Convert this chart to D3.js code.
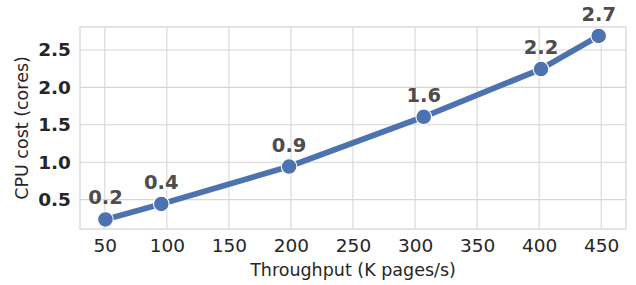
<!DOCTYPE html>
<html>
<head>
<meta charset="utf-8">
<script src="https://cdn.jsdelivr.net/npm/d3@7"></script>
<style>
  body { margin: 0; background: #fff; }
  text { font-family: "DejaVu Sans", sans-serif; }
</style>
</head>
<body>
<svg id="chart" width="636" height="285"></svg>
<script>
// measured throughput and cpu cost
var throughput = [50.5, 95.5, 198.5, 307, 401.5, 448];
var cpuCost = [0.236, 0.443, 0.942, 1.607, 2.245, 2.687];
var costLabels = ['0.2', '0.4', '0.9', '1.6', '2.2', '2.7'];
var xTicks = [50, 100, 150, 200, 250, 300, 350, 400, 450];
var yTicks = [0.5, 1.0, 1.5, 2.0, 2.5];

var margin = { top: 27, right: 10, bottom: 56, left: 80 };
var width = 636, height = 285;
var svg = d3.select('#chart');

var x = d3.scaleLinear().domain([30, 470]).range([margin.left, width - margin.right]);
var y = d3.scaleLinear().domain([0.108, 2.807]).range([height - margin.bottom, margin.top]);

var grid = svg.append('g').attr('stroke', '#d6d6d6').attr('stroke-width', 1.1);
grid.selectAll('.gx').data(xTicks).enter().append('line')
  .attr('x1', x).attr('x2', x)
  .attr('y1', margin.top).attr('y2', height - margin.bottom);
grid.selectAll('.gy').data(yTicks).enter().append('line')
  .attr('y1', y).attr('y2', y)
  .attr('x1', margin.left).attr('x2', width - margin.right);

// spines
svg.append('rect')
  .attr('x', margin.left).attr('y', margin.top)
  .attr('width', width - margin.right - margin.left)
  .attr('height', height - margin.bottom - margin.top)
  .attr('fill', 'none').attr('stroke', '#d6d6d6').attr('stroke-width', 1.3);

var xAxis = svg.append('g')
  .attr('transform', 'translate(0,' + (height - margin.bottom) + ')')
  .call(d3.axisBottom(x).tickValues(xTicks).tickSize(0).tickPadding(10));
xAxis.select('.domain').remove();
xAxis.selectAll('text')
  .attr('fill', '#262626').style('font-size', '18.5px')
  .style('font-family', '"DejaVu Sans", sans-serif');

var yAxis = svg.append('g')
  .attr('transform', 'translate(' + margin.left + ',0)')
  .call(d3.axisLeft(y).tickValues(yTicks).tickFormat(d3.format('.1f')).tickSize(0).tickPadding(9));
yAxis.select('.domain').remove();
yAxis.selectAll('text')
  .attr('fill', '#262626').style('font-size', '18.5px').style('font-weight', 'bold')
  .style('font-family', '"DejaVu Sans", sans-serif');

svg.append('text')
  .attr('x', (margin.left + width - margin.right) / 2).attr('y', 275.5)
  .attr('text-anchor', 'middle').attr('fill', '#262626')
  .style('font-size', '17.5px')
  .text('Throughput (K pages/s)');

svg.append('text')
  .attr('transform', 'translate(28,' + (margin.top + height - margin.bottom) / 2 + ') rotate(-90)')
  .attr('text-anchor', 'middle').attr('fill', '#262626')
  .style('font-size', '17.5px')
  .text('CPU cost (cores)');

var pts = throughput.map(function(t, i) { return { t: t, c: cpuCost[i], label: costLabels[i] }; });

svg.append('path')
  .datum(pts)
  .attr('fill', 'none').attr('stroke', '#4c72b0').attr('stroke-width', 5.8)
  .attr('stroke-linejoin', 'round')
  .attr('d', d3.line().x(function(d) { return x(d.t); }).y(function(d) { return y(d.c); }));

svg.selectAll('.pt').data(pts).enter().append('circle')
  .attr('cx', function(d) { return x(d.t); })
  .attr('cy', function(d) { return y(d.c); })
  .attr('r', 7.8)
  .attr('fill', '#4c72b0').attr('stroke', '#fff').attr('stroke-width', 1.1);

svg.selectAll('.lbl').data(pts).enter().append('text')
  .attr('x', function(d) { return x(d.t); })
  .attr('y', function(d) { return y(d.c) - 15; })
  .attr('text-anchor', 'middle').attr('fill', '#4d4d4d')
  .style('font-size', '19.5px').style('font-weight', 'bold')
  .text(function(d) { return d.label; });
</script>
</body>
</html>
